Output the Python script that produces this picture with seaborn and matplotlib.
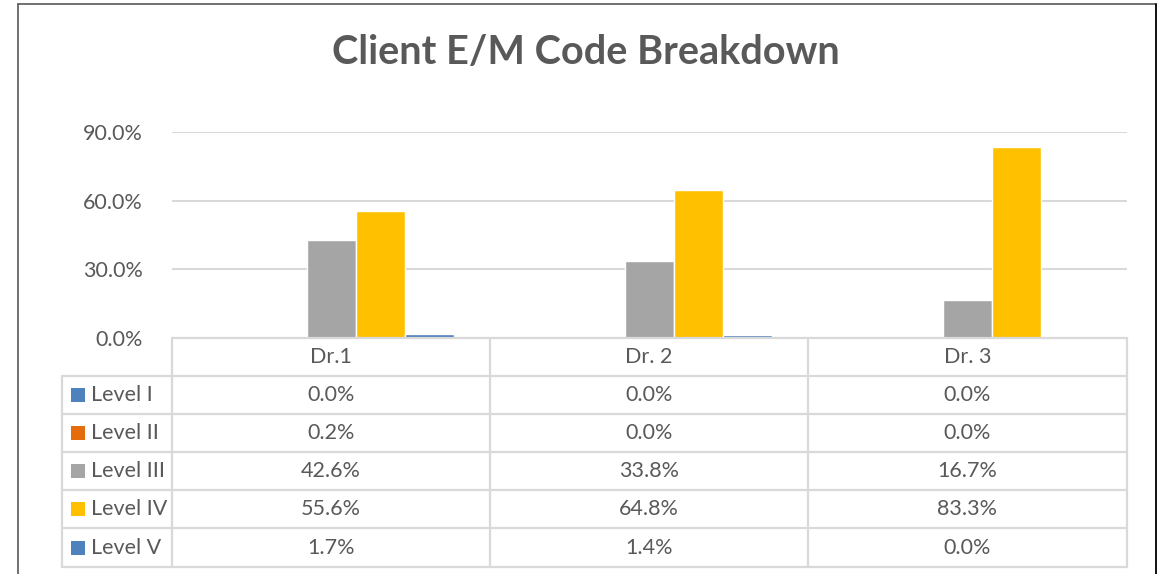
import pandas as pd
import seaborn as sns
import matplotlib.pyplot as plt
from matplotlib.patches import Rectangle

sns.set_theme(style="white")
plt.rcParams["font.family"] = ["Lato", "DejaVu Sans"]

doctors = ["Dr.1", "Dr. 2", "Dr. 3"]
levels = ["Level I", "Level II", "Level III", "Level IV", "Level V"]
level_1 = [0.0, 0.0, 0.0]
level_2 = [0.2, 0.0, 0.0]
level_3 = [42.6, 33.8, 16.7]
level_4 = [55.6, 64.8, 83.3]
level_5 = [1.7, 1.4, 0.0]
y_ticks = [0, 30, 60, 90]

colors = ["#4F81BD", "#E46C0A", "#A5A5A5", "#FFC000", "#4F81BD"]
text_color = "#595959"
line_color = "#D9D9D9"

series = [level_1, level_2, level_3, level_4, level_5]
rows = []
for level, values in zip(levels, series):
    for doc, v in zip(doctors, values):
        rows.append({"Doctor": doc, "Level": level, "Share": v})
df = pd.DataFrame(rows)

W, H = 1165, 574
fig = plt.figure(figsize=(W / 100, H / 100), dpi=100)


def frac(x0, y0, x1, y1):
    # pixel box (top-left origin) -> figure fraction rect
    return [x0 / W, 1 - y1 / H, (x1 - x0) / W, (y1 - y0) / H]


# outer chart frame
fig.add_artist(plt.Line2D([18 / W, 18 / W], [0, 1 - 4 / H],
                          color="#595959", lw=1.2))
fig.add_artist(plt.Line2D([18 / W, 1156 / W], [1 - 4 / H, 1 - 4 / H],
                          color="#595959", lw=1.2))
fig.add_artist(plt.Line2D([1156 / W, 1156 / W], [0, 1 - 4 / H],
                          color="#111111", lw=1.4))

fig.text(586 / W, 1 - 53 / H, "Client E/M Code Breakdown", ha="center",
         va="center", fontsize=28.5, fontweight="bold", color=text_color)

# bars
ax = fig.add_axes(frac(172, 132, 1127, 338))
sns.barplot(data=df, x="Doctor", y="Share", hue="Level", palette=colors,
            width=0.77, gap=0, saturation=1, legend=False, ax=ax)
ax.set_xlim(-0.5, 2.5)
ax.set_ylim(0, 90)
ax.set_yticks(y_ticks)
ax.set_yticklabels([f"{t:.1f}%" for t in y_ticks])
ax.tick_params(axis="y", labelsize=15.5, labelcolor=text_color, length=0,
               pad=21)
ax.set_xticks([])
ax.set_xlabel("")
ax.set_ylabel("")
for s in ax.spines.values():
    s.set_visible(False)
ax.grid(axis="y", color=line_color, lw=1.5)
ax.set_axisbelow(True)

# data table
tax = fig.add_axes(frac(0, 0, W, H))
tax.set_xlim(0, W)
tax.set_ylim(H, 0)
tax.axis("off")
col_edges = [172, 490, 808, 1127]
row_edges = [338, 376, 414, 452, 490, 528, 567]
lw = 1.6
# horizontal lines
tax.plot([172, 1127], [row_edges[0]] * 2, color=line_color, lw=lw)
for y in row_edges[1:]:
    tax.plot([62, 1127], [y, y], color=line_color, lw=lw)
# vertical lines
tax.plot([62, 62], [row_edges[1], row_edges[-1]], color=line_color, lw=lw)
for x in col_edges:
    tax.plot([x, x], [row_edges[0], row_edges[-1]], color=line_color, lw=lw)

for j, doc in enumerate(doctors):
    cx = (col_edges[j] + col_edges[j + 1]) / 2
    cy = (row_edges[0] + row_edges[1]) / 2
    tax.text(cx, cy, doc, ha="center", va="center", fontsize=15.5,
             color=text_color)

for i, (level, values) in enumerate(zip(levels, series)):
    cy = (row_edges[i + 1] + row_edges[i + 2]) / 2
    tax.add_patch(Rectangle((71, cy - 7), 14, 14, color=colors[i], lw=0))
    tax.text(91, cy, level, ha="left", va="center", fontsize=15.5,
             color=text_color)
    for j, v in enumerate(values):
        cx = (col_edges[j] + col_edges[j + 1]) / 2
        tax.text(cx, cy, f"{v:.1f}%", ha="center", va="center",
                 fontsize=15.5, color=text_color)

fig.savefig("out.png", dpi=100)
